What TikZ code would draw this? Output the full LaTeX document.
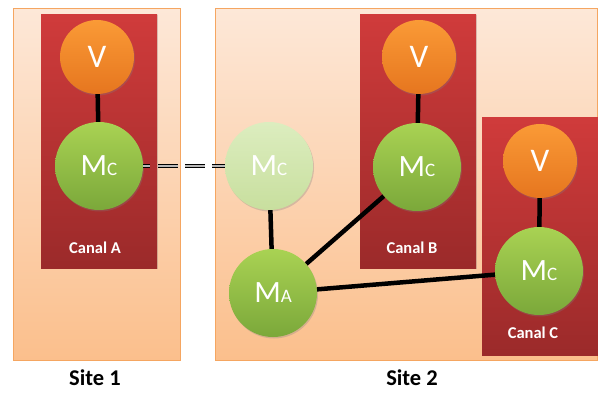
\documentclass[tikz,border=0pt]{standalone}
\usepackage{fontspec}
\setmainfont{Carlito}
\usetikzlibrary{shadows}
\definecolor{siteTop}{HTML}{FDE8D8}
\definecolor{siteBot}{HTML}{FBBF8C}
\definecolor{siteEdge}{HTML}{F5A661}
\definecolor{canalTop}{HTML}{D03B3B}
\definecolor{canalBot}{HTML}{9B2A2A}
\definecolor{vTop}{HTML}{FA9A36}
\definecolor{vBot}{HTML}{E6761F}
\definecolor{mTop}{HTML}{A9D253}
\definecolor{mBot}{HTML}{7BA83A}
\definecolor{lTop}{HTML}{DCEDBF}
\definecolor{lBot}{HTML}{C8DF9E}
\tikzset{
  sitebox/.style={draw=siteEdge, line width=0.8pt, top color=siteTop, bottom color=siteBot},
  canalbox/.style={top color=canalTop, bottom color=canalBot, drop shadow={opacity=0.25, shadow xshift=1pt, shadow yshift=-1pt}},
  vnode/.style={circle, minimum size=74pt, inner sep=0pt, top color=vTop, bottom color=vBot, text=white, font=\fontsize{33}{33}\selectfont, drop shadow={opacity=0.3, shadow xshift=1pt, shadow yshift=-1.5pt}},
  mnode/.style={circle, minimum size=88pt, inner sep=0pt, top color=mTop, bottom color=mBot, text=white, drop shadow={opacity=0.3, shadow xshift=1pt, shadow yshift=-1.5pt}},
  lnode/.style={mnode, top color=lTop, bottom color=lBot},
  link/.style={line width=4.5pt, black},
  canallabel/.style={text=white, font=\bfseries\fontsize{16.5}{16.5}\selectfont},
  sitelabel/.style={text=black, font=\bfseries\fontsize{22.5}{22.5}\selectfont},
}
\newcommand{\Mx}[1]{{\fontsize{31}{31}\selectfont M\fontsize{19}{19}\selectfont #1}}
\begin{document}
\begin{tikzpicture}[x=1pt, y=-1pt]
\useasboundingbox (0,0) rectangle (598,392);
% sites
\path[sitebox] (13,8) rectangle (180,360);
\path[sitebox] (215,8) rectangle (597.6,360);
% canals
\path[canalbox] (41,14) rectangle (157,268);
\path[canalbox] (360,14) rectangle (476,268);
\path[canalbox] (482,117) rectangle (598,355);
% nodes
\node[vnode] (vA) at (97,57) {V};
\node[mnode] (mA) at (99,166) {\Mx{C}};
\node[lnode] (mL) at (269,166) {\Mx{C}};
\node[mnode] (ma) at (273,293) {\Mx{A}};
\node[vnode] (vB) at (419,57) {V};
\node[mnode] (mB) at (417,167) {\Mx{C}};
\node[vnode] (vC) at (540,161) {V};
\node[mnode] (mC) at (539,271) {\Mx{C}};
% labels
\node[canallabel] (cA) at (95,248) {Canal A};
\node[canallabel] (cB) at (412,248) {Canal B};
\node[canallabel] (cC) at (533,333) {Canal C};
\node[sitelabel] (s1) at (95,378) {Site 1};
\node[sitelabel] (s2) at (412,378) {Site 2};
% connectors
\draw[link] (vA) -- (mA);
\draw[link] (vB) -- (mB);
\draw[link] (vC) -- (mC);
\draw[link] (mL) -- (ma);
\draw[link] (ma) -- (mB);
\draw[link] (ma) -- (mC);
\draw[double=gray!55, double distance=1.1pt, line width=1.5pt, draw=black, dash pattern=on 7pt off 8pt on 20pt off 7pt on 20pt off 7pt on 20pt] (mA.east) -- (mL.west);
\end{tikzpicture}
\end{document}
